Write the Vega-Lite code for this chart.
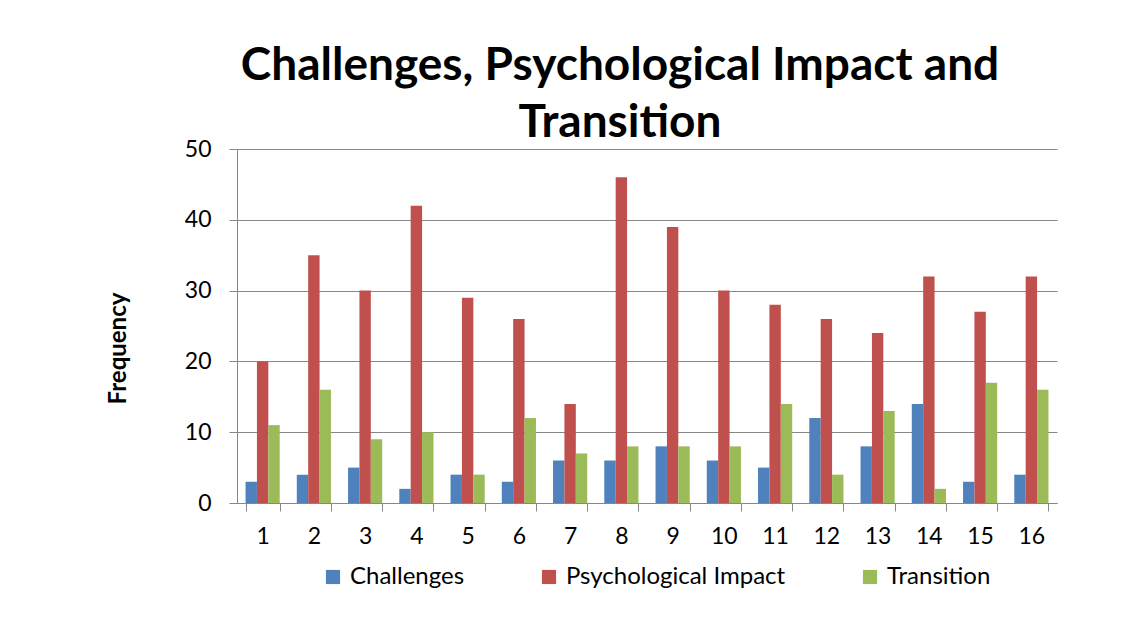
{
  "$schema": "https://vega.github.io/schema/vega-lite/v6.json",
  "width": 820,
  "height": 354,
  "autosize": "none",
  "padding": {"left": 237, "top": 149, "right": 84, "bottom": 130},
  "background": "white",
  "title": {
    "text": ["Challenges, Psychological Impact and", "Transition"],
    "font": "Lato",
    "fontSize": 46,
    "fontWeight": "bold",
    "color": "black",
    "lineHeight": 57,
    "anchor": "middle",
    "frame": "group",
    "dx": -27,
    "offset": -9
  },
  "data": {
    "values": [
      {"q": 1, "s": "Challenges", "v": 3}, {"q": 1, "s": "Psychological Impact", "v": 20}, {"q": 1, "s": "Transition", "v": 11},
      {"q": 2, "s": "Challenges", "v": 4}, {"q": 2, "s": "Psychological Impact", "v": 35}, {"q": 2, "s": "Transition", "v": 16},
      {"q": 3, "s": "Challenges", "v": 5}, {"q": 3, "s": "Psychological Impact", "v": 30}, {"q": 3, "s": "Transition", "v": 9},
      {"q": 4, "s": "Challenges", "v": 2}, {"q": 4, "s": "Psychological Impact", "v": 42}, {"q": 4, "s": "Transition", "v": 10},
      {"q": 5, "s": "Challenges", "v": 4}, {"q": 5, "s": "Psychological Impact", "v": 29}, {"q": 5, "s": "Transition", "v": 4},
      {"q": 6, "s": "Challenges", "v": 3}, {"q": 6, "s": "Psychological Impact", "v": 26}, {"q": 6, "s": "Transition", "v": 12},
      {"q": 7, "s": "Challenges", "v": 6}, {"q": 7, "s": "Psychological Impact", "v": 14}, {"q": 7, "s": "Transition", "v": 7},
      {"q": 8, "s": "Challenges", "v": 6}, {"q": 8, "s": "Psychological Impact", "v": 46}, {"q": 8, "s": "Transition", "v": 8},
      {"q": 9, "s": "Challenges", "v": 8}, {"q": 9, "s": "Psychological Impact", "v": 39}, {"q": 9, "s": "Transition", "v": 8},
      {"q": 10, "s": "Challenges", "v": 6}, {"q": 10, "s": "Psychological Impact", "v": 30}, {"q": 10, "s": "Transition", "v": 8},
      {"q": 11, "s": "Challenges", "v": 5}, {"q": 11, "s": "Psychological Impact", "v": 28}, {"q": 11, "s": "Transition", "v": 14},
      {"q": 12, "s": "Challenges", "v": 12}, {"q": 12, "s": "Psychological Impact", "v": 26}, {"q": 12, "s": "Transition", "v": 4},
      {"q": 13, "s": "Challenges", "v": 8}, {"q": 13, "s": "Psychological Impact", "v": 24}, {"q": 13, "s": "Transition", "v": 13},
      {"q": 14, "s": "Challenges", "v": 14}, {"q": 14, "s": "Psychological Impact", "v": 32}, {"q": 14, "s": "Transition", "v": 2},
      {"q": 15, "s": "Challenges", "v": 3}, {"q": 15, "s": "Psychological Impact", "v": 27}, {"q": 15, "s": "Transition", "v": 17},
      {"q": 16, "s": "Challenges", "v": 4}, {"q": 16, "s": "Psychological Impact", "v": 32}, {"q": 16, "s": "Transition", "v": 16}
    ]
  },
  "mark": {"type": "bar", "stroke": null},
  "encoding": {
    "x": {
      "field": "q",
      "type": "ordinal",
      "scale": {"paddingInner": 0.3333, "paddingOuter": 0.1667},
      "axis": {
        "title": null,
        "labelAngle": 0,
        "labelFont": "Lato",
        "labelFontSize": 23,
        "labelColor": "black",
        "labelPadding": 14,
        "tickBand": "extent",
        "tickSize": 8,
        "tickColor": "#878787",
        "domainColor": "#878787",
        "grid": false
      }
    },
    "xOffset": {"field": "s", "type": "nominal", "scale": {"paddingInner": 0, "paddingOuter": 0}},
    "y": {
      "field": "v",
      "type": "quantitative",
      "scale": {"domain": [0, 50], "nice": false},
      "axis": {
        "title": "Frequency",
        "titleFont": "Lato",
        "titleFontSize": 24,
        "titleFontWeight": "bold",
        "titleColor": "black",
        "titleX": -119,
        "titleY": 199,
        "titleAngle": -90,
        "titleAlign": "center",
        "titleBaseline": "middle",
        "values": [0, 10, 20, 30, 40, 50],
        "labelFont": "Lato",
        "labelFontSize": 23,
        "labelColor": "black",
        "labelPadding": 18,
        "tickSize": 8,
        "tickColor": "#878787",
        "domainColor": "#878787",
        "grid": true,
        "gridColor": "#878787",
        "gridWidth": 1
      }
    },
    "color": {
      "field": "s",
      "type": "nominal",
      "scale": {
        "domain": ["Challenges", "Psychological Impact", "Transition"],
        "range": ["#4F81BD", "#C0504D", "#9BBB59"]
      },
      "legend": {
        "title": null,
        "orient": "none",
        "direction": "horizontal",
        "legendX": 84,
        "legendY": 416,
        "symbolType": "square",
        "symbolSize": 200,
        "symbolStrokeWidth": 0,
        "symbolOpacity": 1,
        "labelFont": "Lato",
        "labelFontSize": 24,
        "labelColor": "black",
        "labelLimit": 400,
        "labelOffset": 5,
        "columnPadding": 72
      }
    }
  },
  "config": {
    "view": {"stroke": null}
  }
}
